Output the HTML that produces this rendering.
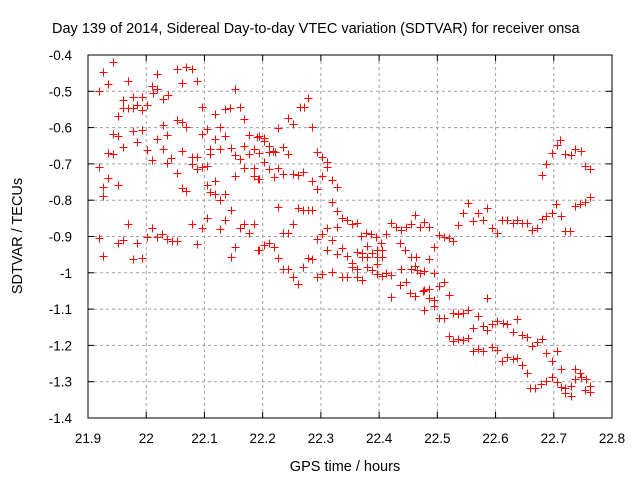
<!DOCTYPE html>
<html><head><meta charset="utf-8"><style>
body{margin:0;background:#fff}
svg{display:block;font-family:"Liberation Sans",sans-serif}
</style></head><body>
<svg id="chart" width="640" height="480" viewBox="0 0 640 480" xmlns="http://www.w3.org/2000/svg">
<rect width="640" height="480" fill="#fff"/>
<text x="52" y="33" font-size="14.5" fill="#000">Day 139 of 2014, Sidereal Day-to-day VTEC variation (SDTVAR) for receiver onsa</text>
<g id="grid"></g>
<g id="ticks"></g>
<g id="marks" shape-rendering="crispEdges"></g>
<rect x="88" y="55" width="524" height="363" fill="none" stroke="#000" stroke-width="1"/>
<text x="345" y="471" font-size="14.5" text-anchor="middle">GPS time / hours</text>
<text transform="translate(22,236) rotate(-90)" font-size="14.5" text-anchor="middle">SDTVAR / TECUs</text>
</svg>
<script>
const xTicks=[21.9,22,22.1,22.2,22.3,22.4,22.5,22.6,22.7,22.8];
const xTickLabels=["21.9","22","22.1","22.2","22.3","22.4","22.5","22.6","22.7","22.8"];
const yTicks=[-0.4,-0.5,-0.6,-0.7,-0.8,-0.9,-1,-1.1,-1.2,-1.3,-1.4];
const yTickLabels=["-0.4","-0.5","-0.6","-0.7","-0.8","-0.9","-1","-1.1","-1.2","-1.3","-1.4"];
const times=[21.943,21.926,21.934,21.919,21.969,21.960,21.977,21.993,21.984,21.969,21.960,21.977,21.993,22.001,21.952,22.010,22.012,22.019,22.019,22.029,22.037,22.053,22.068,22.079,22.061,22.087,22.152,22.096,22.118,22.135,22.144,22.161,22.168,22.053,22.061,22.068,22.029,21.977,21.993,21.943,21.952,21.984,21.960,22.019,22.036,22.096,22.104,22.127,22.118,22.135,22.177,22.190,21.934,21.943,22.001,22.029,22.061,22.110,22.110,22.127,22.146,22.168,22.152,22.161,22.177,22.185,22.010,22.036,22.043,22.079,22.087,22.079,21.919,22.087,22.096,22.104,22.168,22.185,22.053,21.934,22.185,22.152,22.192,21.926,21.952,22.061,22.068,22.104,22.118,22.110,22.118,22.135,22.127,21.926,22.146,22.104,22.135,21.969,22.079,22.168,22.185,22.096,22.161,22.127,22.177,22.010,22.027,21.919,21.960,21.952,21.984,22.001,22.019,22.036,22.044,22.053,22.087,22.152,22.192,21.926,21.977,21.993,22.146,
22.278,22.264,22.271,22.244,22.252,22.226,22.285,22.194,22.202,22.202,22.211,22.218,22.235,22.244,22.194,22.211,22.221,22.202,22.194,22.211,22.226,22.219,22.235,22.252,22.261,22.269,22.285,22.293,22.302,22.310,22.310,22.293,22.302,22.319,22.328,22.319,22.328,22.336,22.345,22.353,22.362,22.328,22.310,22.302,22.293,22.319,22.369,22.377,22.386,22.395,22.403,22.412,22.420,22.429,22.438,22.446,22.455,22.462,22.470,22.477,22.486,22.503,22.494,22.436,22.444,22.455,22.463,22.486,22.226,22.261,22.269,22.278,22.285,22.252,22.235,22.244,22.194,22.202,22.211,22.219,22.226,22.278,22.285,22.310,22.336,22.328,22.345,22.353,22.353,22.362,22.371,22.379,22.388,22.396,22.405,22.379,22.371,22.396,22.405,22.396,22.362,22.379,22.388,22.235,22.244,22.269,22.252,22.261,22.293,22.302,22.319,22.336,22.345,22.362,22.371,22.396,22.405,22.412,22.420,22.438,22.446,22.436,22.455,22.462,22.465,22.470,22.477,22.494,22.453,22.462,22.475,22.486,22.486,22.503,22.420,
22.711,22.706,22.697,22.719,22.730,22.736,22.747,22.687,22.680,22.754,22.762,22.762,22.754,22.745,22.736,22.704,22.697,22.687,22.680,22.712,22.719,22.728,22.553,22.544,22.570,22.585,22.561,22.578,22.536,22.594,22.602,22.611,22.620,22.630,22.637,22.645,22.654,22.663,22.671,22.511,22.520,22.527,22.511,22.477,22.494,22.494,22.520,22.477,22.503,22.511,22.527,22.536,22.544,22.553,22.585,22.570,22.561,22.578,22.585,22.594,22.602,22.613,22.620,22.637,22.630,22.645,22.654,22.663,22.671,22.680,22.687,22.706,22.697,22.520,22.527,22.536,22.544,22.553,22.561,22.570,22.578,22.594,22.602,22.611,22.620,22.630,22.637,22.645,22.654,22.659,22.668,22.678,22.687,22.697,22.706,22.712,22.712,22.719,22.719,22.730,22.730,22.736,22.736,22.745,22.747,22.755,22.754,22.762,22.762];
const sdtvar=[-0.419,-0.447,-0.480,-0.499,-0.472,-0.524,-0.516,-0.516,-0.538,-0.546,-0.546,-0.546,-0.552,-0.538,-0.568,-0.485,-0.505,-0.494,-0.452,-0.521,-0.510,-0.439,-0.433,-0.439,-0.477,-0.472,-0.494,-0.543,-0.563,-0.549,-0.546,-0.543,-0.576,-0.579,-0.585,-0.598,-0.593,-0.609,-0.607,-0.618,-0.623,-0.640,-0.653,-0.631,-0.620,-0.618,-0.604,-0.598,-0.631,-0.623,-0.620,-0.626,-0.670,-0.673,-0.662,-0.659,-0.664,-0.659,-0.673,-0.659,-0.656,-0.651,-0.675,-0.686,-0.673,-0.659,-0.689,-0.698,-0.684,-0.681,-0.681,-0.700,-0.709,-0.714,-0.709,-0.706,-0.711,-0.711,-0.725,-0.739,-0.733,-0.733,-0.742,-0.764,-0.758,-0.766,-0.775,-0.758,-0.747,-0.777,-0.783,-0.783,-0.799,-0.788,-0.827,-0.849,-0.855,-0.866,-0.866,-0.866,-0.866,-0.877,-0.877,-0.879,-0.890,-0.877,-0.893,-0.904,-0.910,-0.918,-0.918,-0.901,-0.901,-0.907,-0.912,-0.912,-0.921,-0.929,-0.937,-0.954,-0.962,-0.959,-0.956,
-0.518,-0.543,-0.543,-0.574,-0.590,-0.601,-0.598,-0.623,-0.629,-0.637,-0.651,-0.664,-0.653,-0.673,-0.670,-0.667,-0.667,-0.695,-0.742,-0.714,-0.711,-0.736,-0.728,-0.728,-0.731,-0.722,-0.747,-0.667,-0.681,-0.695,-0.709,-0.769,-0.733,-0.744,-0.764,-0.805,-0.830,-0.849,-0.855,-0.866,-0.863,-0.874,-0.877,-0.893,-0.907,-0.910,-0.899,-0.890,-0.893,-0.901,-0.918,-0.893,-0.863,-0.874,-0.882,-0.874,-0.866,-0.841,-0.874,-0.860,-0.874,-0.896,-0.929,-0.918,-0.937,-0.956,-0.956,-0.962,-0.819,-0.821,-0.827,-0.827,-0.827,-0.866,-0.890,-0.890,-0.937,-0.923,-0.918,-0.929,-0.959,-0.959,-0.962,-0.937,-0.932,-0.948,-0.954,-0.973,-0.984,-0.943,-0.945,-0.926,-0.945,-0.937,-0.937,-0.956,-0.956,-0.956,-0.956,-0.976,-0.990,-0.984,-0.992,-0.990,-0.990,-0.984,-1.012,-1.031,-1.012,-1.003,-0.998,-1.012,-1.012,-1.012,-1.020,-1.003,-1.009,-1.001,-1.006,-0.990,-1.025,-1.034,-0.990,-0.981,-0.992,-1.001,-0.995,-1.001,-1.056,-1.064,-1.050,-1.045,-1.069,-1.036,-1.067,
-0.634,-0.648,-0.670,-0.673,-0.675,-0.659,-0.664,-0.700,-0.731,-0.706,-0.714,-0.791,-0.805,-0.810,-0.816,-0.810,-0.835,-0.844,-0.852,-0.844,-0.885,-0.885,-0.808,-0.835,-0.835,-0.821,-0.857,-0.855,-0.868,-0.877,-0.890,-0.855,-0.855,-0.863,-0.855,-0.863,-0.863,-0.882,-0.877,-0.901,-0.904,-0.912,-1.025,-1.047,-1.075,-1.091,-1.061,-1.102,-1.124,-1.124,-1.111,-1.113,-1.111,-1.102,-1.069,-1.118,-1.152,-1.147,-1.158,-1.141,-1.133,-1.138,-1.141,-1.127,-1.163,-1.171,-1.177,-1.202,-1.191,-1.182,-1.221,-1.215,-1.243,-1.174,-1.188,-1.182,-1.185,-1.180,-1.215,-1.210,-1.215,-1.204,-1.213,-1.243,-1.232,-1.237,-1.235,-1.254,-1.276,-1.317,-1.317,-1.306,-1.298,-1.287,-1.301,-1.265,-1.315,-1.317,-1.331,-1.339,-1.312,-1.265,-1.293,-1.276,-1.287,-1.293,-1.323,-1.312,-1.328];

const X0=88,X1=612,Y0=55,Y1=418;
function xs(v){return X0+(v-21.9)/(22.8-21.9)*(X1-X0);}
function ys(v){return Y0+(-0.4-v)/(1.0)*(Y1-Y0);}
const NS="http://www.w3.org/2000/svg";
const grid=document.getElementById('grid'),ticks=document.getElementById('ticks'),marks=document.getElementById('marks');
function mk(tag,attrs,parent){const e=document.createElementNS(NS,tag);for(const k in attrs)e.setAttribute(k,attrs[k]);parent.appendChild(e);return e;}
xTicks.forEach((t,i)=>{
  const x=xs(t);
  if(i>0&&i<xTicks.length-1){const g=mk('line',{x1:x,x2:x,y1:Y0,y2:Y1,stroke:'#a0a0a0','stroke-dasharray':'3,3'},grid);
  
  }
  const a=mk('line',{x1:x,x2:x,y1:Y1,y2:Y1-6,stroke:'#000'},ticks);
  
  
  const b=mk('line',{x1:x,x2:x,y1:Y0,y2:Y0+6,stroke:'#000'},ticks);
  
  
  const l=mk('text',{x:x,y:Y1+25,'font-size':'13.5','text-anchor':'middle'},ticks);
  l.textContent=xTickLabels[i];
  
  
});
yTicks.forEach((t,i)=>{
  const y=ys(t);
  if(i>0&&i<yTicks.length-1){const g=mk('line',{x1:X0,x2:X1,y1:y,y2:y,stroke:'#a0a0a0','stroke-dasharray':'3,3'},grid);
  
  }
  const a=mk('line',{x1:X0,x2:X0+6,y1:y,y2:y,stroke:'#000'},ticks);
  
  
  const b=mk('line',{x1:X1,x2:X1-6,y1:y,y2:y,stroke:'#000'},ticks);
  
  
  const l=mk('text',{x:X0-16,y:y+5,'font-size':'13.5','text-anchor':'end'},ticks);
  l.textContent=yTickLabels[i];
  
  
});
times.forEach((t,i)=>{
  const x=Math.round(xs(t))+0.5,y=Math.round(ys(sdtvar[i]))+0.5;
  const p=mk('path',{d:`M${x-4},${y}H${x+4}M${x},${y-4}V${y+4}`,stroke:'#ff0000','stroke-width':'1',fill:'none'},marks);
  
  
});
</script>
</body></html>
